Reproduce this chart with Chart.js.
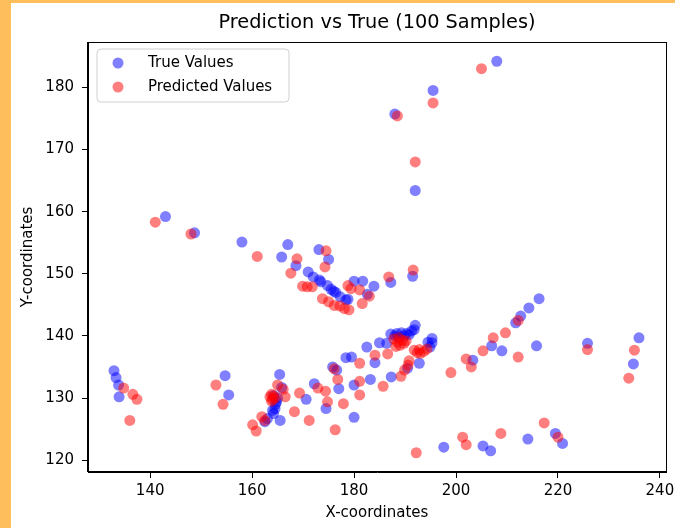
<!DOCTYPE html>
<html><head><meta charset="utf-8">
<script src="https://cdn.jsdelivr.net/npm/chart.js@4.4.1/dist/chart.umd.min.js"></script>
<style>
html,body{margin:0;padding:0;background:#FFBE5C;width:675px;height:528px;overflow:hidden;}
#wrap{position:absolute;left:11px;top:3px;width:664px;height:525px;background:#fff;}
canvas{display:block;}
</style></head><body>
<div id="wrap"><canvas id="c" width="664" height="525"></canvas></div>
<script>
const chartTitle = 'Prediction vs True (100 Samples)';
const seriesNames = ['True Values', 'Predicted Values'];
const xLabel = 'X-coordinates';
const yLabel = 'Y-coordinates';
const xTickValues = [140, 160, 180, 200, 220, 240];
const yTickValues = [120, 130, 140, 150, 160, 170, 180];

const trueX = [208,195.5,188,192,143,148.7,158,167,165.8,168.6,173.1,175,171,172,173.2,174.8,175.5,176.4,177.3,178.4,180,181.7,182.6,183.9,187.2,191.5,
  132.9,133.3,133.8,133.9,154.7,155.4,165.4,165.8,164.2,164.8,164.5,164.2,163,162.5,165.5,170.6,172.2,174.5,175.8,176.6,177,178.4,179.5,180,180,182.5,183.2,184.1,185,186.4,187.3,
  187.2,188.4,189.3,190.3,191.3,192,190.5,192.8,194.9,195.3,195.3,203.3,207,209,211.7,212.7,214.3,216.3,215.8,225.8,235.9,234.8,219.5,220.9,214.1,205.3,206.8,197.6,
  188.8,189.8,190.8,164.6,165,178.8,176,194.5,173.5,188,164,191.8];
const trueY = [184.2,179.5,175.7,163.4,159.2,156.6,155.1,154.7,152.7,151.3,153.9,152.3,150.3,149.5,149,148.1,147.5,147,146.3,145.8,148.8,148.8,146.7,148,148.6,149.6,
  134.4,133.3,132.1,130.2,133.6,130.5,133.8,131.7,130.4,129.4,128.3,127.5,126.7,126.2,126.4,129.8,132.3,128.3,135,134.5,131.5,136.5,136.6,132.1,126.9,138.2,133,135.7,138.9,138.8,133.4,
  140.3,140.4,140.5,140.4,140.8,141.7,134.8,135.6,138.2,138.9,139.6,136.1,138.4,137.6,142.1,143.2,144.5,146,138.4,138.8,139.7,135.5,124.3,122.7,123.4,122.3,121.5,122.1,
  139.8,140,140.2,129,130,145.9,147.2,139,148.7,140,128,141];

const predX = [205,195.5,188.5,192,141,148,161,168.8,167.6,174.5,174.3,169.9,170.8,171.8,173.8,175,176.1,177.2,178.1,179,178.8,179.4,181.1,183,181.6,186.8,191.6,
  134.8,136.6,137.4,136,152.9,154.3,165,166.1,163.5,164,164.3,163.8,161.9,162.5,160.1,160.8,166.5,169.3,168.3,171.2,172.9,174.4,174.8,176.1,176.8,177.9,176.3,
  181.1,181.1,181.1,184.1,185.7,186.6,189.2,189.9,190.6,190.8,188.5,189,189.5,188.8,189.8,188.2,191.8,192.8,193.7,193,192.4,199,202,203,205.3,207.3,209.7,212.2,212.2,
  225.8,235,233.9,217.3,220,208.8,201.3,202,192.2,164.5,163.8,190.2,187.8,194.3];
const predY = [183,177.5,175.4,168,158.3,156.4,152.8,152.4,150.1,153.7,151.1,148,147.9,147.9,146,145.5,144.9,144.8,144.4,144.2,148.1,147.6,147.4,146.4,145.2,149.5,150.6,
  131.6,130.6,129.8,126.4,132.1,129,132.1,131.4,130.2,129.8,130.3,129.5,127,126.4,125.7,124.7,130.2,130.8,127.8,126.4,131.6,131.1,129.4,134.7,133,129.1,124.9,
  135.6,132.7,130.5,136.9,131.9,137.1,133.5,134.5,135.3,136,139,138.5,139.3,139.7,138.8,138.3,137.7,137.8,137.5,137.2,137.3,134.1,136.3,135,137.6,139.7,140.5,142.5,136.6,
  137.8,137.7,133.2,126,123.7,124.3,123.7,122.5,121.2,130,130.6,139.2,139.5,137.9];

const xRange = [127.8, 241.2];
const yRange = [118.1, 187.3];

const FONT = 'DejaVu Sans';
const blue = 'rgba(0,0,255,0.5)';
const red = 'rgba(255,0,0,0.5)';

function pts(xs, ys){ return xs.map((x,i)=>({x:x, y:ys[i]})); }

const framePlugin = {
  id: 'frame',
  afterDatasetsDraw(chart){
    const {ctx, chartArea:a} = chart;
    ctx.save();
    ctx.strokeStyle = '#000';
    ctx.lineWidth = 1;
    ctx.strokeRect(Math.round(a.left)-0.5, Math.round(a.top)+0.5, Math.round(a.right-a.left)+1, Math.round(a.bottom-a.top)-1);
    ctx.restore();
  }
};

const titlePlugin = {
  id: 'mplTitle',
  afterDraw(chart){
    const ctx = chart.ctx, a = chart.chartArea;
    ctx.save();
    ctx.font = '19.3px "' + FONT + '"';
    ctx.fillStyle = '#000';
    ctx.textAlign = 'center';
    ctx.textBaseline = 'middle';
    ctx.fillText(chartTitle, (a.left + a.right) / 2, 20);
    ctx.restore();
  }
};

const legendPlugin = {
  id: 'mplLegend',
  afterDraw(chart){
    const ctx = chart.ctx;
    const a = chart.chartArea;
    const x0 = a.left + 9, y0 = a.top + 7, w = 192, h = 53, r = 4;
    ctx.save();
    ctx.beginPath();
    ctx.moveTo(x0+r, y0);
    ctx.arcTo(x0+w, y0, x0+w, y0+h, r);
    ctx.arcTo(x0+w, y0+h, x0, y0+h, r);
    ctx.arcTo(x0, y0+h, x0, y0, r);
    ctx.arcTo(x0, y0, x0+w, y0, r);
    ctx.closePath();
    ctx.fillStyle = 'rgba(255,255,255,0.8)';
    ctx.fill();
    ctx.strokeStyle = '#d0d0d0';
    ctx.lineWidth = 1;
    ctx.stroke();
    const ds = chart.data.datasets;
    ctx.font = '15px "' + FONT + '"';
    ctx.textBaseline = 'middle';
    ctx.textAlign = 'left';
    ds.forEach((d, i) => {
      const cy = y0 + 14 + i*24;
      ctx.beginPath();
      ctx.arc(x0 + 21, cy, 5.5, 0, Math.PI*2);
      ctx.fillStyle = d.backgroundColor;
      ctx.fill();
      ctx.fillStyle = '#000';
      ctx.fillText(d.label, x0 + 51, cy);
    });
    ctx.restore();
  }
};

new Chart(document.getElementById('c'), {
  type: 'scatter',
  data: {
    datasets: [
      {label: seriesNames[0], data: pts(trueX, trueY), backgroundColor: blue, borderColor: blue, borderWidth: 0, pointRadius: 5.5, order: 1},
      {label: seriesNames[1], data: pts(predX, predY), backgroundColor: red, borderColor: red, borderWidth: 0, pointRadius: 5.5, order: 0}
    ]
  },
  options: {
    responsive: false,
    animation: false,
    devicePixelRatio: 1,
    layout: {padding: {left: 0, right: 9, top: 39, bottom: 0}},
    plugins: {
      legend: {display: false},
      tooltip: {enabled: false},
      title: {display: false}
    },
    scales: {
      x: {
        type: 'linear', min: xRange[0], max: xRange[1],
        afterFit(s){ s.height = 56; s.paddingLeft = 0; s.paddingRight = 0; },
        afterBuildTicks(s){ s.ticks = xTickValues.map(v => ({value: v})); },
        ticks: {color: '#000', font: {family: FONT, size: 15}, padding: 4, maxRotation: 0, includeBounds: false},
        grid: {display: true, drawOnChartArea: false, drawTicks: true, tickLength: 6, color: '#000', lineWidth: 1},
        border: {display: true, color: '#000', width: 1},
        title: {display: true, text: xLabel, color: '#000', font: {family: FONT, size: 15}, padding: {top: 0, bottom: 6}}
      },
      y: {
        type: 'linear', min: yRange[0], max: yRange[1],
        afterFit(s){ s.width = 77; s.paddingTop = 0; s.paddingBottom = 0; },
        afterBuildTicks(s){ s.ticks = yTickValues.map(v => ({value: v})); },
        ticks: {color: '#000', font: {family: FONT, size: 15}, padding: 8, includeBounds: false},
        grid: {display: true, drawOnChartArea: false, drawTicks: true, tickLength: 6, color: '#000', lineWidth: 1},
        border: {display: true, color: '#000', width: 1},
        title: {display: true, text: yLabel, color: '#000', font: {family: FONT, size: 15}, padding: {top: 8, bottom: 0}}
      }
    }
  },
  plugins: [framePlugin, titlePlugin, legendPlugin]
});
</script>
</body></html>
